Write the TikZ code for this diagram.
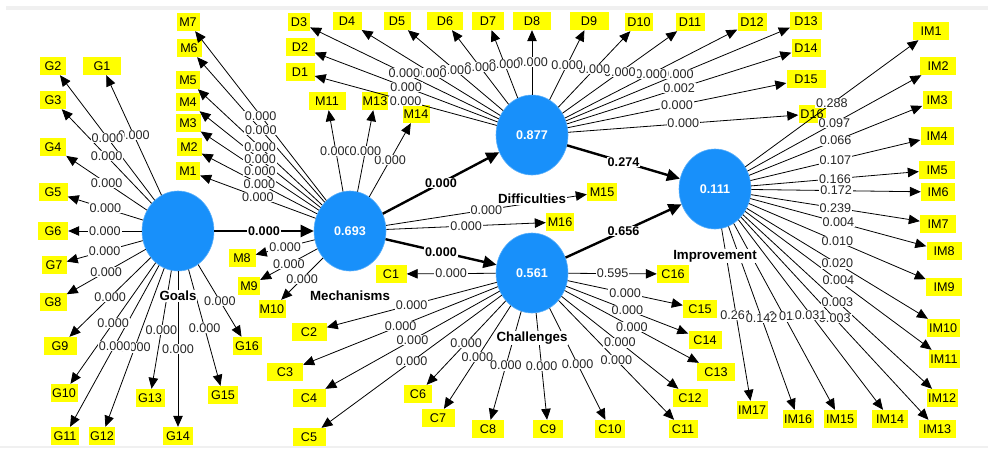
\documentclass[tikz,border=0pt]{standalone}
\usepackage{fontspec}
\setmainfont{Liberation Sans}
\usetikzlibrary{arrows.meta,shapes.geometric}
\definecolor{plsblue}{RGB}{24,144,250}
\definecolor{indy}{RGB}{255,255,0}
\newcommand\lblfont{\fontsize{12.6}{14}\selectfont}
\newcommand\nmfont{\fontsize{13.3}{15}\selectfont}
\begin{document}
\begin{tikzpicture}[x=1pt,y=-1pt,
  ind/.style={fill=indy, inner xsep=0pt, inner ysep=0pt, minimum height=18pt, font=\lblfont, text=black},
  lv/.style={ellipse, fill=plsblue, draw=plsblue!70!white, line width=0.6pt, minimum width=72pt, minimum height=80pt, inner sep=0pt, text=white, font=\bfseries\lblfont},
  ld/.style={line width=0.8pt, -{Triangle[length=11pt,width=9.5pt]}},
  sp/.style={line width=2.4pt, -{Triangle[length=13pt,width=12pt]}},
  lbl/.style={fill=white, inner xsep=1pt, inner ysep=0.5pt, font=\lblfont, text=black!85},
  blbl/.style={fill=white, inner xsep=1pt, inner ysep=0.5pt, font=\bfseries\lblfont, text=black},
  nm/.style={fill=white, inner sep=1pt, font=\bfseries\nmfont, text=black}]
\useasboundingbox (0,0) rectangle (988,448);
\fill[black!6] (6,6) rectangle (988,10);
\fill[black!6] (0,446) rectangle (988,448);

% indicator boxes
\foreach \n/\t/\x/\y/\w in {
  g1/G1/102/66/38, g2/G2/53/66/26, g3/G3/53/100/26, g4/G4/53/147/26, g5/G5/53/192/29,
  g6/G6/53/231/30, g7/G7/54/265/25, g8/G8/53/302/27, g9/G9/60/346/33, g10/G10/64/393/27,
  g11/G11/65/436/28, g12/G12/102/436/26, g13/G13/150/398/29, g14/G14/178/436/30,
  g15/G15/223/395/30, g16/G16/247/346/29,
  m1/M1/188/171/24, m2/M2/189/147/25, m3/M3/188/123/25, m4/M4/188/102/24, m5/M5/188/80/24,
  m6/M6/189/48/25, m7/M7/188/22/23, m8/M8/242/258/27, m9/M9/249/286/22, m10/M10/272/309/27,
  m11/M11/327/101/37, m13/M13/375/101/26, m14/M14/416/114/27, m15/M15/602/192/30, m16/M16/560/222/28,
  d1/D1/300/72/29, d2/D2/300/47/29, d3/D3/299/22/22, d4/D4/347/21/29, d5/D5/397/21/27,
  d6/D6/445/21/36, d7/D7/488/21/32, d8/D8/532/21/38, d9/D9/589/21/39, d10/D10/639/22/28,
  d11/D11/690/22/29, d12/D12/752/22/29, d13/D13/806/21/32, d14/D14/806/48/29, d15/D15/806/79/39,
  d16/D16/812/114/27,
  c1/C1/391/274/31, c2/C2/309/332/35, c3/C3/285/372/36, c4/C4/309/398/33, c5/C5/309/437/33,
  c6/C6/418/394/28, c7/C7/438/418/33, c8/C8/488/429/32, c9/C9/548/429/30, c10/C10/610/429/30,
  c11/C11/683/429/29, c12/C12/690/398/35, c13/C13/716/372/38, c14/C14/705/340/33,
  c15/C15/700/309/34, c16/C16/673/274/32,
  im1/IM1/931/31/36, im2/IM2/938/66/36, im3/IM3/937/100/29, im4/IM4/937/136/33,
  im5/IM5/937/170/36, im6/IM6/938/192/34, im7/IM7/938/224/36, im8/IM8/944/251/35,
  im9/IM9/944/287/36, im10/IM10/943/328/33, im11/IM11/944/359/31, im12/IM12/942/398/31,
  im13/IM13/937/429/37, im14/IM14/890/419/36, im15/IM15/840/419/33, im16/IM16/798/419/31,
  im17/IM17/752/410/31}
  \node[ind, minimum width=\w pt] (\n) at (\x,\y) {\t};

% latent variables
\node[lv] (goals) at (178,231) {};
\node[lv] (mech) at (350,231) {0.693};
\node[lv] (diff) at (532,135) {0.877};
\node[lv] (chal) at (532,273) {0.561};
\node[lv] (impr) at (715,189) {0.111};

% loading lines
\foreach \i in {1,2,3,4,5,6,7,8,9,10,11,12,13,14,15,16} \draw[ld] (goals) -- (g\i);
\foreach \i in {1,2,3,4,5,6,7,8,9,10,11,13,14,15,16} \draw[ld] (mech) -- (m\i);
\foreach \i in {1,2,3,4,5,6,7,8,9,10,11,12,13,14,15,16} \draw[ld] (diff) -- (d\i);
\foreach \i in {1,2,3,4,5,6,7,8,9,10,11,12,13,14,15,16} \draw[ld] (chal) -- (c\i);
\foreach \i in {1,2,3,4,5,6,7,8,9,10,11,12,13,14,15,16,17} \draw[ld] (impr) -- (im\i);

% structural paths
\draw[sp] (goals) -- (mech);
\draw[sp] (mech) -- (diff);
\draw[sp] (mech) -- (chal);
\draw[sp] (diff) -- (impr);
\draw[sp] (chal) -- (impr);

% latent names
\node[nm] (goalsn) at (178,296) {Goals};
\node[nm] (mechn) at (350,296) {Mechanisms};
\node[nm] (diffn) at (532,199) {Difficulties};
\node[nm] (chaln) at (532,338) {Challenges};
\node[nm] (imprn) at (715,256) {Improvement};

% loading labels
\foreach \i in {1,2,3,4,5,6,7,8,9,10,12,11,13,14,15,16} \path (goals) -- node[lbl]{0.000} (g\i);
\foreach \i in {1,2,3,4,5,6,7,8,9,10,11,14,13,15,16} \path (mech) -- node[lbl]{0.000} (m\i);
\foreach \i/\v in {16/0.000,15/0.000,14/0.002,13/0.000,12/0.000,11/0.000,10/0.000,9/0.000,8/0.000,7/0.000,6/0.000,5/0.000,4/0.000,3/0.000,2/0.000,1/0.000}
  \path (diff) -- node[lbl]{\v} (d\i);
\foreach \i/\v in {1/0.000,2/0.000,3/0.000,4/0.000,5/0.000,6/0.000,7/0.000,8/0.000,9/0.000,10/0.000,11/0.000,12/0.000,13/0.000,14/0.000,15/0.000,16/0.595}
  \path (chal) -- node[lbl]{\v} (c\i);
\foreach \i/\v in {1/0.288,2/0.097,3/0.066,4/0.107,5/0.166,6/0.172,7/0.239,8/0.004,9/0.010,10/0.020,11/0.004,12/0.003,13/0.003,17/0.261,15/0.012,16/0.142,14/0.031}
  \path (impr) -- node[lbl]{\v} (im\i);

% structural labels
\path (goals) -- node[blbl]{0.000} (mech);
\path (mech) -- node[blbl]{0.000} (diff);
\path (mech) -- node[blbl]{0.000} (chal);
\path (diff) -- node[blbl]{0.274} (impr);
\path (chal) -- node[blbl]{0.656} (impr);
\end{tikzpicture}
\end{document}
